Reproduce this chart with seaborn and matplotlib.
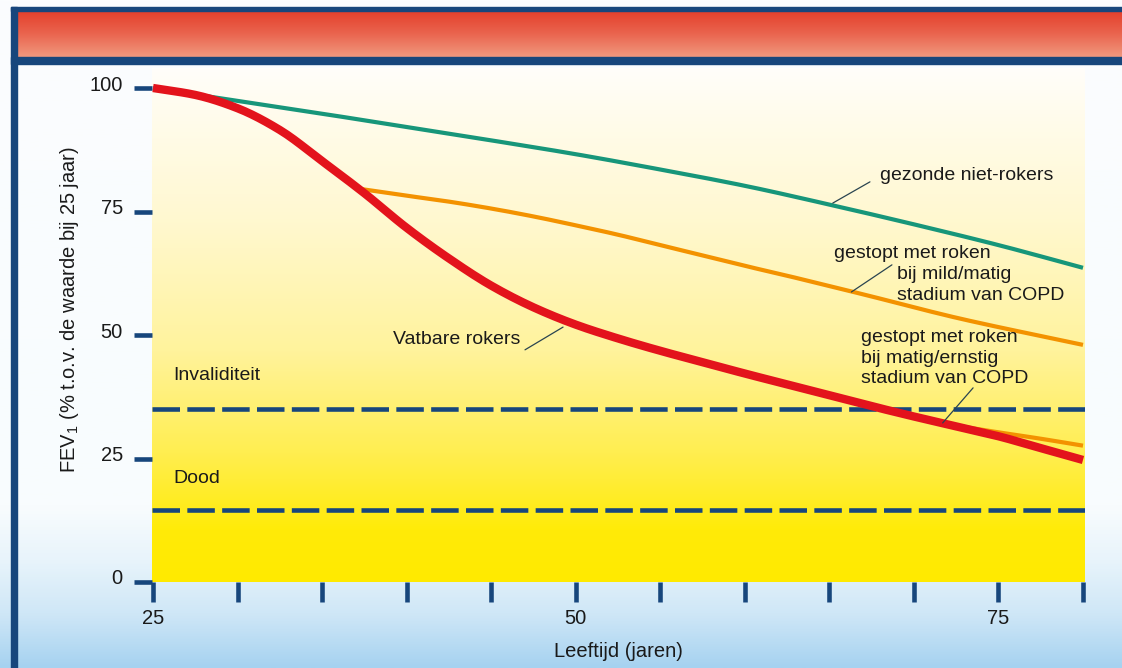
import numpy as np
import pandas as pd
import matplotlib
matplotlib.use("Agg")
import matplotlib.pyplot as plt
from matplotlib.colors import LinearSegmentedColormap
from matplotlib.transforms import ScaledTranslation
import seaborn as sns

# FEV1 (% of the value at age 25) by age, per group
age_healthy = [25, 30, 35, 40, 45, 50, 55, 60, 65, 70, 75, 80]
fev_healthy = [100, 97.4, 94.8, 92.1, 89.4, 86.6, 83.5, 80.2, 76.4, 72.4, 68.2, 63.6]

age_smoker = [25, 27.5, 30, 32.5, 35, 37.5, 40, 42.5, 45, 47.5, 50, 52.5,
              55, 57.5, 60, 62.5, 65, 67.5, 70, 72.5, 75, 77.5, 80]
fev_smoker = [100, 98.6, 95.9, 91.5, 85.2, 78.7, 71.7, 65.5, 60.0, 55.6, 52.1, 49.3,
              46.8, 44.5, 42.2, 40.0, 37.8, 35.6, 33.5, 31.5, 29.5, 27.1, 24.7]

age_quit_mild = [37.2, 40, 42.5, 45, 47.5, 50, 52.5, 55, 57.5, 60, 62.5, 65,
                 67.5, 70, 72.5, 75, 77.5, 80]
fev_quit_mild = [79.6, 78.2, 77.0, 75.6, 74.0, 72.2, 70.3, 68.2, 66.1, 64.0, 62.0, 59.9,
                 57.8, 55.6, 53.5, 51.6, 49.8, 48.0]

age_quit_severe = [71.5, 75, 77.5, 80]
fev_quit_severe = [32.2, 30.3, 29.0, 27.6]

thresholds = [35, 14.5]
threshold_labels = ["Invaliditeit", "Dood"]

x_major = [25, 50, 75]
x_minor = [30, 35, 40, 45, 55, 60, 65, 70, 80]
y_ticks = [0, 25, 50, 75, 100]

NAVY = "#17467c"
RED = "#e3131c"
GREEN = "#17967a"
ORANGE = "#f39200"
TEXT = "#1a1a1a"


def smooth_path(xs, ys, per_seg=12):
    """Monotone cubic (PCHIP) path through the given points, for drawing."""
    x = np.asarray(xs, float)
    y = np.asarray(ys, float)
    h = np.diff(x)
    d = np.diff(y) / h
    m = np.zeros_like(y)
    for k in range(1, len(x) - 1):
        if d[k - 1] * d[k] > 0:
            w1 = 2 * h[k] + h[k - 1]
            w2 = h[k] + 2 * h[k - 1]
            m[k] = (w1 + w2) / (w1 / d[k - 1] + w2 / d[k])
    m[0] = d[0]
    m[-1] = d[-1]
    out_x, out_y = [], []
    for k in range(len(h)):
        t = np.linspace(0, 1, per_seg, endpoint=False)
        h00 = 2 * t**3 - 3 * t**2 + 1
        h10 = t**3 - 2 * t**2 + t
        h01 = -2 * t**3 + 3 * t**2
        h11 = t**3 - t**2
        out_x.append(x[k] + t * h[k])
        out_y.append(h00 * y[k] + h10 * h[k] * m[k] + h01 * y[k + 1] + h11 * h[k] * m[k + 1])
    out_x.append([x[-1]])
    out_y.append([y[-1]])
    return np.concatenate(out_x), np.concatenate(out_y)


sns.set_style("white")
plt.rcParams["font.family"] = ["Liberation Sans", "DejaVu Sans"]
plt.rcParams["mathtext.fontset"] = "custom"
plt.rcParams["mathtext.rm"] = "Liberation Sans"

W, H = 1122, 668
fig = plt.figure(figsize=(W / 100, H / 100), dpi=100)

# ---- page background: white fading to sky blue, framed header bar ----
bg = fig.add_axes([0, 0, 1, 1], zorder=-10)
bg.set_xlim(0, W)
bg.set_ylim(H, 0)
bg.axis("off")
sky = LinearSegmentedColormap.from_list(
    "sky", [(0.0, "#fbfdfe"), (0.76, "#f8fcfe"), (0.84, "#e8f4fb"),
            (0.92, "#cfe7f7"), (1.0, "#a6d2f0")])
bg.imshow(np.linspace(0, 1, 256)[:, None], cmap=sky, aspect="auto",
          extent=(0, W, H, 0), zorder=0)
header = LinearSegmentedColormap.from_list(
    "header", ["#e4402c", "#ea6650", "#f09a80"])
bg.imshow(np.linspace(0, 1, 128)[:, None], cmap=header, aspect="auto",
          extent=(11, W, 58, 11), zorder=1)
bg.add_patch(plt.Rectangle((11, 7), W - 11, 4, color=NAVY, zorder=2))
bg.add_patch(plt.Rectangle((11, 57), W - 11, 7, color=NAVY, zorder=2))
bg.add_patch(plt.Rectangle((11, 7), 6, H - 7, color=NAVY, zorder=2))

# ---- main plot area ----
px_per_year = 16.91
px_per_unit = 4.94
x_lo = 25 - 1 / px_per_year
x_hi = 80 + 2 / px_per_year
y_hi = 104
left_px, right_px, bottom_px = 152, 1085, 582
top_px = bottom_px - y_hi * px_per_unit
ax = fig.add_axes([left_px / W, (H - bottom_px) / H,
                   (right_px - left_px) / W, (bottom_px - top_px) / H])
ax.set_facecolor("none")
ax.set_xlim(x_lo, x_hi)
ax.set_ylim(0, y_hi)

glow = LinearSegmentedColormap.from_list(
    "glow", [(0.0, "#ffea00"), (0.10, "#ffeb08"), (0.25, "#ffee50"),
             (0.45, "#fff39c"), (0.70, "#fff8cf"), (0.92, "#fffcee"),
             (1.0, "#fffefa")])
ax.imshow(np.linspace(0, 1, 256)[:, None], cmap=glow, origin="lower",
          aspect="auto", extent=(x_lo, x_hi, 0, y_hi), zorder=0)

for level in thresholds:
    ax.axhline(level, color=NAVY, lw=3.3, ls=(0, (6.0, 1.6)), zorder=2)

series = [
    (age_healthy, fev_healthy, GREEN, 3.0),
    (age_quit_mild, fev_quit_mild, ORANGE, 3.0),
    (age_quit_severe, fev_quit_severe, ORANGE, 3.0),
    (age_smoker, fev_smoker, RED, 6.0),
]
for xs, ys, col, lw in series:
    sx, sy = smooth_path(xs, ys)
    df = pd.DataFrame({"Leeftijd": sx, "FEV1": sy})
    sns.lineplot(data=df, x="Leeftijd", y="FEV1", color=col, lw=lw,
                 sort=False, ax=ax, zorder=3, clip_on=False,
                 solid_capstyle="butt", solid_joinstyle="round")

# ---- axes decoration ----
for s in ax.spines.values():
    s.set_visible(False)
ax.set_xticks(x_major)
ax.set_xticks(x_minor, minor=True)
ax.set_yticks(y_ticks)
ax.tick_params(axis="x", which="both", direction="out", length=14.5,
               width=3.3, color=NAVY, pad=5, labelsize=14.5,
               labelcolor=TEXT, bottom=True)
ax.tick_params(axis="y", which="both", direction="out", length=13,
               width=3.3, color=NAVY, pad=8, labelsize=14.5,
               labelcolor=TEXT, left=True)
ax.set_xticklabels([str(v) for v in x_major])
ax.set_yticklabels([str(v) for v in y_ticks])
shift = ScaledTranslation(0, 5 / 100, fig.dpi_scale_trans)
for lab in ax.get_yticklabels():
    lab.set_transform(lab.get_transform() + shift)

ax.set_xlabel("Leeftijd (jaren)", fontsize=14.5, color=TEXT, labelpad=10)
ax.set_ylabel("")
fig.text(70 / W, 1 - 310 / H,
         r"FEV$_\mathregular{1}$ (% t.o.v. de waarde bij 25 jaar)",
         rotation=90, ha="center", va="center", fontsize=14.5, color=TEXT)

# ---- labels ----
fs = 14
ax.text(26.2, 41.9, threshold_labels[0], fontsize=fs, color=TEXT,
        ha="left", va="center", zorder=4)
ax.text(26.2, 21.05, threshold_labels[1], fontsize=fs, color=TEXT,
        ha="left", va="center", zorder=4)

lead = dict(arrowstyle="-", color="#2a4450", lw=0.9, shrinkA=0, shrinkB=0)
ax.text(39.2, 49.0, "Vatbare rokers", fontsize=fs, color=TEXT,
        ha="left", va="center", zorder=4)
ax.annotate("", xy=(49.25, 51.6), xytext=(47.0, 47.0), arrowprops=lead,
            zorder=4)

ax.text(68.0, 82.2, "gezonde niet-rokers", fontsize=fs, color=TEXT,
        ha="left", va="center", zorder=4)
ax.annotate("", xy=(65.2, 76.7), xytext=(67.4, 81.0), arrowprops=lead,
            zorder=4)

ax.text(65.3, 66.5, "gestopt met roken", fontsize=fs, color=TEXT,
        ha="left", va="center", zorder=4)
ax.text(69.0, 62.3, "bij mild/matig", fontsize=fs, color=TEXT,
        ha="left", va="center", zorder=4)
ax.text(69.0, 58.0, "stadium van COPD", fontsize=fs, color=TEXT,
        ha="left", va="center", zorder=4)
ax.annotate("", xy=(66.3, 58.7), xytext=(68.7, 64.2), arrowprops=lead,
            zorder=4)

ax.text(66.9, 49.4, "gestopt met roken", fontsize=fs, color=TEXT,
        ha="left", va="center", zorder=4)
ax.text(66.9, 45.3, "bij matig/ernstig", fontsize=fs, color=TEXT,
        ha="left", va="center", zorder=4)
ax.text(66.9, 41.1, "stadium van COPD", fontsize=fs, color=TEXT,
        ha="left", va="center", zorder=4)
ax.annotate("", xy=(71.7, 32.2), xytext=(73.5, 39.3), arrowprops=lead,
            zorder=4)

fig.savefig("out.png", dpi=100)
